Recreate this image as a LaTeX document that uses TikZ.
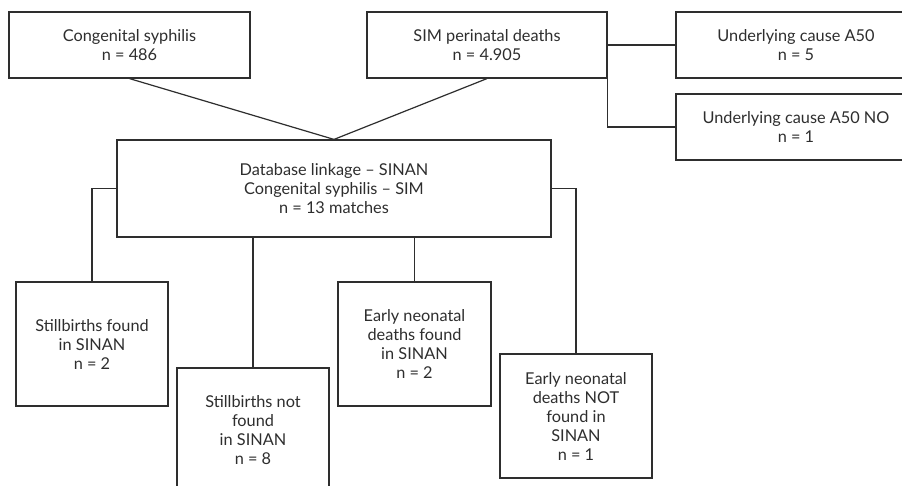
\documentclass[tikz,border=0pt]{standalone}
\usepackage{fontspec}
\setmainfont{Lato}
\definecolor{ink}{HTML}{2E2E2E}
\begin{document}
\begin{tikzpicture}[x=1pt,y=-1pt,
  box/.style={draw=ink,line width=1.2pt,rectangle,inner sep=0pt,align=center,
    text=ink,font=\fontsize{16.3}{19}\selectfont},
  link/.style={draw=ink,line width=1.2pt}]
\useasboundingbox (0,0) rectangle (902,486);
\clip (0,0) rectangle (902,486);
\fill[white] (0,0) rectangle (902,486);
\node[box,minimum width=241pt,minimum height=66pt] (b1) at (129.5,45) {Congenital syphilis\\n = 486};
\node[box,minimum width=240pt,minimum height=66pt] (b2) at (487,45) {SIM perinatal deaths\\n = 4.905};
\node[box,minimum width=240pt,minimum height=66pt] (b3) at (796,45) {Underlying cause A50\\n = 5};
\node[box,minimum width=240pt,minimum height=66pt] (b4) at (796,127) {Underlying cause A50 NO\\n = 1};
\node[box,minimum width=434pt,minimum height=97pt] (bc) at (334,188.5) {Database linkage -- SINAN\\Congenital syphilis -- SIM\\n = 13 matches};
\node[box,minimum width=152pt,minimum height=124pt] (b5) at (92,344) {Stillbirths found\\in SINAN\\n = 2};
\node[box,minimum width=152pt,minimum height=124pt] (b6) at (253,430) {Stillbirths not\\found\\in SINAN\\n = 8};
\node[box,minimum width=153pt,minimum height=124pt] (b7) at (414.5,344) {Early neonatal\\deaths found\\in SINAN\\n = 2};
\node[box,minimum width=152pt,minimum height=124pt] (b8) at (576,416) {Early neonatal\\deaths NOT\\found in\\SINAN\\n = 1};
\draw[link] (b1.south) -- (bc.north);
\draw[link] (b2.south) -- (bc.north);
\draw[link] (b2.east) -- (b3.west);
\draw[link] (b2.south east) |- (b4.west);
\draw[link] (bc.west) -| (b5.north);
\draw[link] (b6.north |- bc.south) -- (b6.north);
\draw[link] (b7.north |- bc.south) -- (b7.north);
\draw[link] (bc.east) -| (b8.north);
\end{tikzpicture}
\end{document}
